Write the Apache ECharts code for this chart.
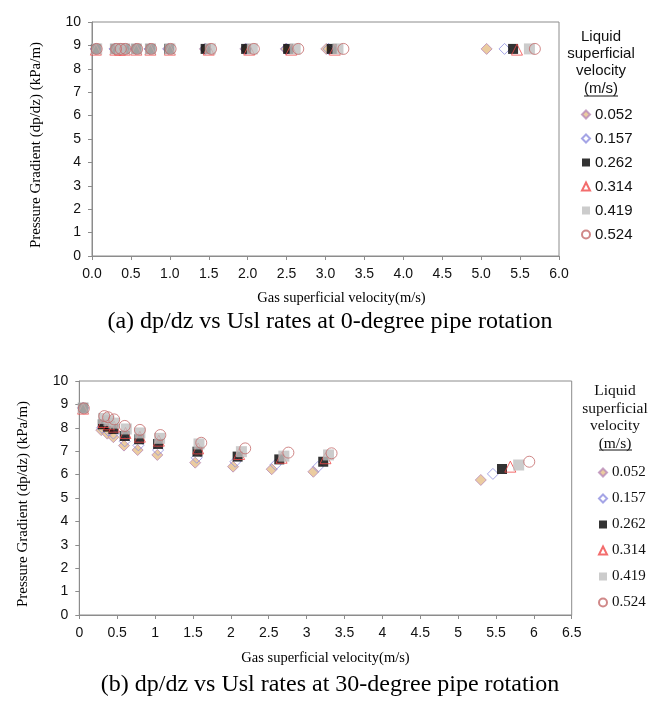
<!DOCTYPE html>
<html>
<head>
<meta charset="utf-8">
<script src="https://cdn.jsdelivr.net/npm/echarts@6/dist/echarts.min.js"></script>
<style>html,body{margin:0;padding:0;background:#fff}#c{width:661px;height:703px}</style>
</head>
<body>
<div id="c"></div>
<script>
// ---- data ----
const seriesNames = ['0.052', '0.157', '0.262', '0.314', '0.419', '0.524'];

// (a) 0-degree rotation: gas superficial velocity (m/s) per liquid velocity
const xA_052 = [0.05, 0.29, 0.35, 0.41, 0.56, 0.74, 0.98, 1.45, 1.97, 2.49, 3.01, 5.07];
const xA_157 = [0.05, 0.29, 0.35, 0.41, 0.56, 0.74, 0.98, 1.46, 1.98, 2.50, 3.04, 5.30];
const xA_262 = [0.05, 0.30, 0.36, 0.42, 0.57, 0.75, 0.99, 1.46, 1.98, 2.52, 3.08, 5.41];
const xA_314 = [0.05, 0.30, 0.36, 0.42, 0.57, 0.75, 1.00, 1.50, 2.02, 2.56, 3.12, 5.46];
const xA_419 = [0.06, 0.30, 0.37, 0.42, 0.57, 0.75, 1.00, 1.52, 2.06, 2.61, 3.16, 5.62];
const xA_524 = [0.06, 0.31, 0.37, 0.43, 0.58, 0.76, 1.01, 1.53, 2.08, 2.65, 3.23, 5.69];
// pressure gradient (kPa/m)
const yA_052 = [8.85, 8.85, 8.85, 8.85, 8.85, 8.85, 8.85, 8.85, 8.85, 8.85, 8.85, 8.85];
const yA_157 = [8.85, 8.85, 8.85, 8.85, 8.85, 8.85, 8.85, 8.85, 8.85, 8.85, 8.85, 8.85];
const yA_262 = [8.85, 8.85, 8.85, 8.85, 8.85, 8.85, 8.85, 8.85, 8.85, 8.85, 8.85, 8.85];
const yA_314 = [8.82, 8.82, 8.82, 8.82, 8.82, 8.82, 8.82, 8.82, 8.82, 8.82, 8.82, 8.82];
const yA_419 = [8.85, 8.85, 8.85, 8.85, 8.85, 8.85, 8.85, 8.85, 8.85, 8.85, 8.85, 8.85];
const yA_524 = [8.85, 8.85, 8.85, 8.85, 8.85, 8.85, 8.85, 8.85, 8.85, 8.85, 8.85, 8.85];

// (b) 30-degree rotation
const xB_052 = [0.05, 0.29, 0.37, 0.45, 0.59, 0.77, 1.03, 1.53, 2.03, 2.54, 3.09, 5.30];
const xB_157 = [0.05, 0.30, 0.38, 0.45, 0.60, 0.78, 1.04, 1.55, 2.06, 2.59, 3.15, 5.46];
const xB_262 = [0.05, 0.31, 0.38, 0.45, 0.60, 0.79, 1.04, 1.56, 2.09, 2.64, 3.22, 5.58];
const xB_314 = [0.05, 0.32, 0.39, 0.46, 0.61, 0.80, 1.05, 1.57, 2.11, 2.67, 3.25, 5.69];
const xB_419 = [0.05, 0.32, 0.39, 0.46, 0.62, 0.80, 1.06, 1.58, 2.14, 2.70, 3.29, 5.80];
const xB_524 = [0.06, 0.33, 0.38, 0.46, 0.60, 0.80, 1.07, 1.61, 2.19, 2.76, 3.33, 5.94];
const yB_052 = [8.85, 7.90, 7.75, 7.60, 7.24, 7.05, 6.84, 6.51, 6.34, 6.23, 6.12, 5.77];
const yB_157 = [8.85, 8.00, 7.88, 7.75, 7.42, 7.25, 7.05, 6.72, 6.55, 6.42, 6.33, 6.03];
const yB_262 = [8.85, 8.15, 8.05, 7.95, 7.65, 7.51, 7.31, 6.98, 6.77, 6.65, 6.55, 6.24];
const yB_314 = [8.82, 8.25, 8.15, 8.05, 7.78, 7.62, 7.45, 7.12, 6.88, 6.72, 6.70, 6.34];
const yB_419 = [8.85, 8.40, 8.30, 8.20, 7.95, 7.78, 7.55, 7.31, 6.98, 6.79, 6.84, 6.41];
const yB_524 = [8.83, 8.50, 8.45, 8.36, 8.08, 7.91, 7.69, 7.36, 7.12, 6.94, 6.91, 6.55];

const xTicksA = ['0.0','0.5','1.0','1.5','2.0','2.5','3.0','3.5','4.0','4.5','5.0','5.5','6.0'];

// ---- styles ----
const SANS = 'Liberation Sans';
const SERIF = 'Liberation Serif';
const styles = [
  {symbol: 'diamond', size: 11, itemStyle: {color: '#E6BF88', borderColor: '#B98BB8', borderWidth: 1}},
  {symbol: 'diamond', size: 11, itemStyle: {color: 'rgba(255,255,255,0)', borderColor: '#8F8FE0', borderWidth: 1}},
  {symbol: 'rect', size: 10, itemStyle: {color: '#000000'}},
  {symbol: 'triangle', size: 11, itemStyle: {color: 'rgba(255,255,255,0)', borderColor: '#F04848', borderWidth: 1}},
  {symbol: 'rect', size: 11, itemStyle: {color: '#BFBFBF'}},
  {symbol: 'circle', size: 11, itemStyle: {color: 'rgba(255,255,255,0)', borderColor: '#C46A6A', borderWidth: 1}}
];

const dataA = [[xA_052, yA_052], [xA_157, yA_157], [xA_262, yA_262], [xA_314, yA_314], [xA_419, yA_419], [xA_524, yA_524]];
const dataB = [[xB_052, yB_052], [xB_157, yB_157], [xB_262, yB_262], [xB_314, yB_314], [xB_419, yB_419], [xB_524, yB_524]];

function zip(xs, ys) { return xs.map((x, i) => [x, ys[i]]); }

const series = [];
dataA.forEach((d, i) => {
  series.push({type: 'scatter', name: seriesNames[i], xAxisIndex: 0, yAxisIndex: 0,
    symbol: styles[i].symbol, symbolSize: styles[i].size, itemStyle: styles[i].itemStyle,
    data: zip(d[0], d[1]), z: 2 + i});
});
dataB.forEach((d, i) => {
  series.push({type: 'scatter', name: seriesNames[i], xAxisIndex: 1, yAxisIndex: 1,
    symbol: styles[i].symbol, symbolSize: styles[i].size, itemStyle: styles[i].itemStyle,
    data: zip(d[0], d[1]), z: 2 + i});
});

const axisLineStyle = {lineStyle: {color: '#8C8C8C', width: 1}};
const axisTick = {show: true, inside: false, length: 4, lineStyle: {color: '#8C8C8C'}};

const option = {
  backgroundColor: '#ffffff',
  animation: false,
  grid: [
    {left: 92, top: 22, width: 467, height: 234, show: true, borderColor: '#8C8C8C', borderWidth: 1, containLabel: false},
    {left: 79.3, top: 381, width: 492.4, height: 234, show: true, borderColor: '#8C8C8C', borderWidth: 1, containLabel: false}
  ],
  xAxis: [
    {type: 'value', gridIndex: 0, min: 0, max: 6, interval: 0.5,
      name: 'Gas superficial velocity(m/s)', nameLocation: 'middle', nameGap: 35,
      nameTextStyle: {fontFamily: SERIF, fontSize: 14.5, color: '#000', padding: [0, 0, 0, 32]},
      axisLine: axisLineStyle, axisTick: axisTick, splitLine: {show: false},
      axisLabel: {fontFamily: SANS, fontSize: 14, color: '#111', margin: 11,
        formatter: v => xTicksA[Math.round(v / 0.5)] }},
    {type: 'value', gridIndex: 1, min: 0, max: 6.5, interval: 0.5,
      name: 'Gas superficial velocity(m/s)', nameLocation: 'middle', nameGap: 36,
      nameTextStyle: {fontFamily: SERIF, fontSize: 14.5, color: '#000'},
      axisLine: axisLineStyle, axisTick: axisTick, splitLine: {show: false},
      axisLabel: {fontFamily: SANS, fontSize: 14, color: '#111', margin: 11}}
  ],
  yAxis: [
    {type: 'value', gridIndex: 0, min: 0, max: 10, interval: 1,
      name: 'Pressure Gradient (dp/dz) (kPa/m)', nameLocation: 'middle', nameGap: 48,
      nameTextStyle: {fontFamily: SERIF, fontSize: 15, color: '#000', padding: [0, 12, 0, 0]},
      axisLine: {show: true, lineStyle: {color: '#8C8C8C', width: 1}}, axisTick: axisTick, splitLine: {show: false},
      axisLabel: {fontFamily: SANS, fontSize: 14, color: '#111', margin: 11}},
    {type: 'value', gridIndex: 1, min: 0, max: 10, interval: 1,
      name: 'Pressure Gradient (dp/dz) (kPa/m)', nameLocation: 'middle', nameGap: 49,
      nameTextStyle: {fontFamily: SERIF, fontSize: 15, color: '#000', padding: [0, 12, 0, 0]},
      axisLine: {show: true, lineStyle: {color: '#8C8C8C', width: 1}}, axisTick: axisTick, splitLine: {show: false},
      axisLabel: {fontFamily: SANS, fontSize: 14, color: '#111', margin: 11}}
  ],
  legend: [
    {orient: 'vertical', left: 576, top: 102, itemWidth: 8, itemHeight: 8, itemGap: 9,
      data: seriesNames, textStyle: {fontFamily: SANS, fontSize: 15, color: '#111'}, selectedMode: false},
    {orient: 'vertical', left: 593, top: 460, itemWidth: 8, itemHeight: 8, itemGap: 11,
      data: seriesNames, textStyle: {fontFamily: SERIF, fontSize: 15, color: '#111'}, selectedMode: false}
  ],
  graphic: [
    {type: 'text', x: 601, y: 28, style: {text: 'Liquid\nsuperficial\nvelocity\n(m/s)', fontFamily: SANS, fontSize: 15, lineHeight: 17.3, fill: '#111', align: 'center', verticalAlign: 'top'}},
    {type: 'line', shape: {x1: 584, y1: 96, x2: 618, y2: 96}, style: {stroke: '#111', lineWidth: 1}},
    {type: 'text', x: 615, y: 382, style: {text: 'Liquid\nsuperficial\nvelocity\n(m/s)', fontFamily: SERIF, fontSize: 15.5, lineHeight: 17.7, fill: '#111', align: 'center', verticalAlign: 'top'}},
    {type: 'line', shape: {x1: 599, y1: 450, x2: 632, y2: 450}, style: {stroke: '#111', lineWidth: 1}},
    {type: 'text', x: 330, y: 322, style: {text: '(a) dp/dz vs Usl rates at 0-degree pipe rotation', fontFamily: SERIF, fontSize: 24, fill: '#000', align: 'center', verticalAlign: 'middle'}},
    {type: 'text', x: 330, y: 685, style: {text: '(b) dp/dz vs Usl rates at 30-degree pipe rotation', fontFamily: SERIF, fontSize: 24, fill: '#000', align: 'center', verticalAlign: 'middle'}}
  ],
  series: series
};

const chart = echarts.init(document.getElementById('c'), null, {renderer: 'canvas'});
chart.setOption(option);
</script>
</body>
</html>
